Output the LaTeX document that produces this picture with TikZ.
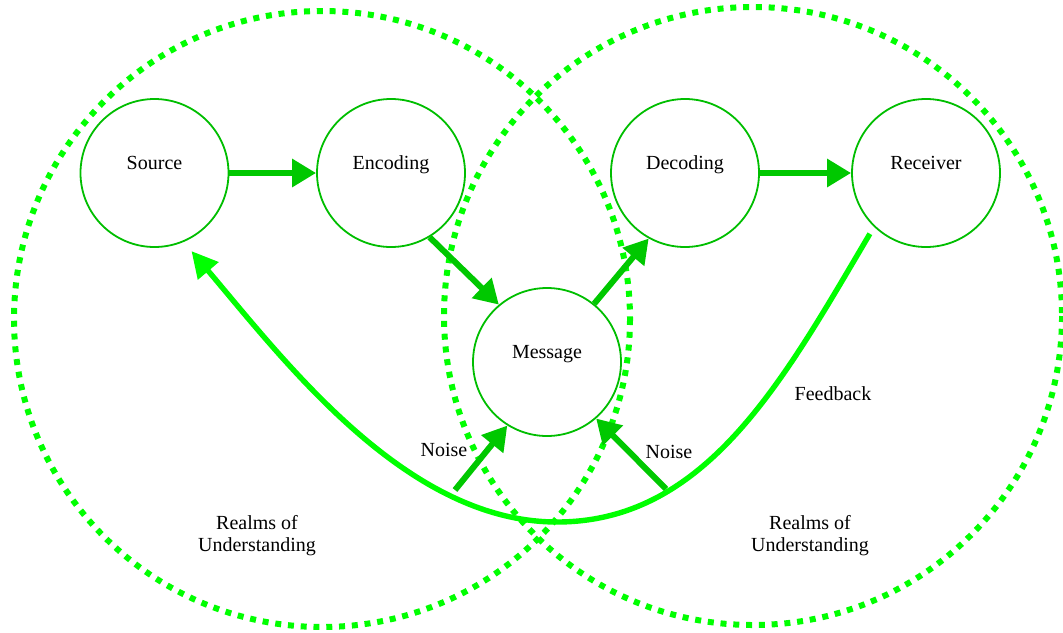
\documentclass[tikz,border=0pt]{standalone}
\usepackage{fontspec}
\setmainfont{Liberation Serif}
\usetikzlibrary{arrows.meta}
\definecolor{ringgreen}{RGB}{0,255,0}
\definecolor{nodegreen}{RGB}{0,190,0}
\definecolor{flowgreen}{RGB}{0,200,0}
\tikzset{
	realm/.style={draw=ringgreen, line width=3pt, dash pattern=on 3pt off 3.4pt},
	stage/.style={circle, draw=nodegreen, fill=white, line width=0.9pt, minimum size=74pt,
		inner sep=0pt, text height=7pt, text depth=11pt},
	flow/.style={draw=flowgreen, line width=3pt, -{Triangle[length=12pt,width=13.5pt]}},
	fback/.style={draw=ringgreen, line width=2.7pt, -{Triangle[length=13pt,width=13pt]}}
}

\begin{document}
\begin{tikzpicture}[x=0.5pt, y=-0.5pt, font=\fontsize{10}{11}\selectfont]

					\useasboundingbox (0,0) rectangle (1063,632);

					\draw[realm] (322,319) circle[radius=308];
					\draw[realm] (753,316) circle[radius=309];

					\node[stage] (src) at (154.5,173) {Source};
					\node[stage] (enc) at (391,173) {Encoding};
					\node[stage] (dec) at (685,173) {Decoding};
					\node[stage] (rcv) at (926,173) {Receiver};
					\node[stage] (msg) at (547,362) {Message};

					\draw[flow] (src) -- (enc);
					\draw[flow] (dec) -- (rcv);
					\draw[flow] (enc.301) -- (msg.130);
					\draw[flow] (msg.51) -- (dec.241);

					\coordinate (nzL) at (455,490);
					\coordinate (nzR) at (666,489);
					\draw[flow] (nzL) -- (msg.238);
					\draw[flow] (nzR) -- (msg.311);

					\draw[fback, shorten <=4pt, shorten >=6pt] (rcv.226)
						.. controls (784,379) and (707,522) .. (557,522)
						.. controls (407,522) and (287,364) .. (src.293);

					\node (nzLt) at (444,450) {Noise};
					\node (nzRt) at (669,452) {Noise};
					\node (fbt) at (833,394) {Feedback};
					\node[align=center] (rlmL) at (257,536) {Realms of\\Understanding};
					\node[align=center] (rlmR) at (810,536) {Realms of\\Understanding};

				\end{tikzpicture}
\end{document}
